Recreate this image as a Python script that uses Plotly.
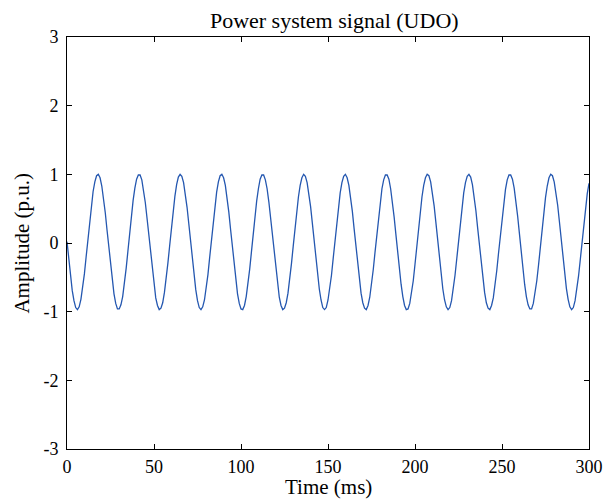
import plotly.graph_objects as go

# Sample times (ms), 1 ms sampling
time_ms = list(range(0, 301))

# Signal amplitude (p.u.), one value per ms
amplitude = [
    0.02, -0.24, -0.48, -0.69, -0.84, -0.94, -0.97, -0.93, -0.82, -0.66,
    -0.45, -0.20, 0.06, 0.31, 0.55, 0.75, 0.89, 0.98, 1.00, 0.95,
    0.83, 0.66, 0.44, 0.19, -0.07, -0.32, -0.55, -0.74, -0.88, -0.96,
    -0.96, -0.90, -0.78, -0.60, -0.37, -0.12, 0.14, 0.39, 0.62, 0.80,
    0.93, 0.99, 0.99, 0.92, 0.78, 0.59, 0.36, 0.11, -0.15, -0.40,
    -0.62, -0.80, -0.91, -0.97, -0.95, -0.87, -0.72, -0.53, -0.29, -0.04,
    0.22, 0.47, 0.68, 0.85, 0.96, 1.00, 0.97, 0.88, 0.73, 0.52,
    0.28, 0.03, -0.23, -0.47, -0.68, -0.84, -0.94, -0.97, -0.93, -0.83,
    -0.67, -0.46, -0.21, 0.05, 0.30, 0.54, 0.74, 0.89, 0.98, 1.00,
    0.95, 0.84, 0.67, 0.45, 0.20, -0.06, -0.31, -0.55, -0.74, -0.88,
    -0.96, -0.97, -0.91, -0.78, -0.60, -0.38, -0.13, 0.13, 0.38, 0.61,
    0.79, 0.93, 0.99, 0.99, 0.92, 0.79, 0.60, 0.37, 0.12, -0.14,
    -0.39, -0.61, -0.79, -0.91, -0.97, -0.95, -0.87, -0.73, -0.54, -0.30,
    -0.05, 0.21, 0.46, 0.67, 0.84, 0.95, 1.00, 0.97, 0.88, 0.73,
    0.53, 0.29, 0.04, -0.22, -0.47, -0.67, -0.83, -0.94, -0.97, -0.94,
    -0.83, -0.67, -0.47, -0.22, 0.04, 0.29, 0.53, 0.73, 0.88, 0.97,
    1.00, 0.95, 0.84, 0.67, 0.46, 0.21, -0.05, -0.30, -0.54, -0.73,
    -0.87, -0.95, -0.97, -0.91, -0.79, -0.61, -0.39, -0.14, 0.12, 0.37,
    0.60, 0.79, 0.92, 0.99, 0.99, 0.93, 0.79, 0.61, 0.38, 0.13,
    -0.13, -0.38, -0.60, -0.78, -0.91, -0.97, -0.96, -0.88, -0.74, -0.55,
    -0.31, -0.06, 0.20, 0.45, 0.67, 0.84, 0.95, 1.00, 0.98, 0.89,
    0.74, 0.54, 0.30, 0.05, -0.21, -0.46, -0.67, -0.83, -0.93, -0.97,
    -0.94, -0.84, -0.68, -0.47, -0.23, 0.03, 0.28, 0.52, 0.73, 0.88,
    0.97, 1.00, 0.96, 0.85, 0.68, 0.47, 0.22, -0.04, -0.29, -0.53,
    -0.72, -0.87, -0.95, -0.97, -0.91, -0.80, -0.62, -0.40, -0.15, 0.11,
    0.36, 0.59, 0.78, 0.92, 0.99, 0.99, 0.93, 0.80, 0.62, 0.39,
    0.14, -0.12, -0.37, -0.60, -0.78, -0.90, -0.96, -0.96, -0.88, -0.74,
    -0.55, -0.32, -0.07, 0.19, 0.44, 0.66, 0.83, 0.95, 1.00, 0.98,
    0.89, 0.75, 0.55, 0.31, 0.06, -0.20, -0.45, -0.66, -0.82, -0.93,
    -0.97, -0.94, -0.84, -0.69, -0.48, -0.24, 0.02, 0.27, 0.51, 0.72,
    0.87,
]

x_tick_vals = [0, 50, 100, 150, 200, 250, 300]
x_tick_text = ["0", "50", "100", "150", "200", "250", "300"]
y_tick_vals = [-3, -2, -1, 0, 1, 2, 3]
y_tick_text = ["-3", "-2", "-1", "0", "1", "2", "3"]

title_text = "Power system signal (UDO)"
x_label = "Time (ms)"
y_label = "Amplitude (p.u.)"

FONT = "Liberation Serif, Times New Roman, serif"

fig = go.Figure()
fig.add_trace(go.Scatter(
    x=time_ms, y=amplitude, mode="lines",
    line=dict(color="#2457b0", width=1.3),
    showlegend=False, hoverinfo="skip",
))

axis_common = dict(
    showline=True, linecolor="black", linewidth=1, mirror="ticks",
    ticks="inside", ticklen=5, tickwidth=1, tickcolor="black",
    showgrid=False, zeroline=False, automargin=False,
    tickfont=dict(family=FONT, size=18, color="black"),
)

fig.update_layout(
    width=606, height=499,
    margin=dict(l=67, r=17, t=37, b=50),
    paper_bgcolor="white", plot_bgcolor="white",
    font=dict(family=FONT, color="black"),
    title=dict(
        text=title_text,
        font=dict(family=FONT, size=22, color="black"),
        xref="paper", x=0.512, xanchor="center",
        yref="container", y=1 - 20 / 499, yanchor="middle",
    ),
    xaxis=dict(
        range=[0, 300], tickvals=x_tick_vals, ticktext=x_tick_text,
        ticklabelstandoff=1,
        **axis_common,
    ),
    yaxis=dict(
        range=[-3, 3], tickvals=y_tick_vals, ticktext=y_tick_text,
        ticklabelstandoff=4,
        **axis_common,
    ),
    annotations=[
        dict(text=x_label, xref="paper", yref="paper", x=0.5, y=-0.092,
             xanchor="center", yanchor="middle", showarrow=False,
             font=dict(family=FONT, size=21, color="black")),
        dict(text=y_label, xref="paper", yref="paper", x=-0.087, y=0.5,
             xanchor="center", yanchor="middle", textangle=-90, showarrow=False,
             font=dict(family=FONT, size=21, color="black")),
    ],
)

fig.write_html(
    "out.html",
    config={"displayModeBar": False},
    post_script="document.body.style.margin='0';document.body.style.overflow='hidden';",
)
